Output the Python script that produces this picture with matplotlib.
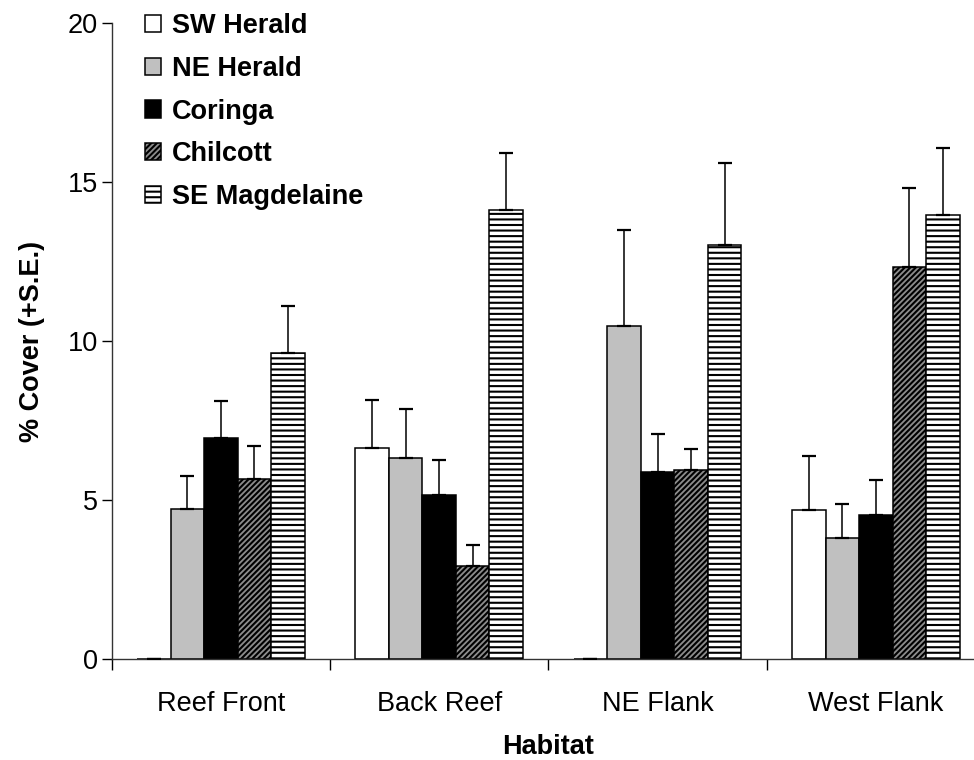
import matplotlib
matplotlib.use('Agg')
import matplotlib.pyplot as plt
import numpy as np

plt.rcParams['font.family'] = ['Liberation Sans', 'DejaVu Sans']
plt.rcParams['hatch.linewidth'] = 1.5
plt.rcParams['hatch.color'] = 'black'

habitats = ['Reef Front', 'Back Reef', 'NE Flank', 'West Flank']
sites = ['SW Herald', 'NE Herald', 'Coringa', 'Chilcott', 'SE Magdelaine']

# mean % cover per site, one value per habitat
sw_herald = [0.0, 6.66, 0.0, 4.70]
ne_herald = [4.72, 6.33, 10.49, 3.83]
coringa = [6.96, 5.18, 5.89, 4.55]
chilcott = [5.67, 2.95, 5.94, 12.33]
se_magdelaine = [9.62, 14.14, 13.04, 13.97]

# standard errors
sw_herald_se = [0.0, 1.50, 0.0, 1.69]
ne_herald_se = [1.06, 1.54, 3.00, 1.06]
coringa_se = [1.15, 1.09, 1.20, 1.10]
chilcott_se = [1.05, 0.66, 0.66, 2.48]
se_magdelaine_se = [1.48, 1.79, 2.56, 2.12]

means = [sw_herald, ne_herald, coringa, chilcott, se_magdelaine]
errors = [sw_herald_se, ne_herald_se, coringa_se, chilcott_se, se_magdelaine_se]
faces = ['white', '#c0c0c0', 'black', '#8c8c8c', 'white']
hatches = [None, None, None, '//////', '---']

fig = plt.figure(figsize=(9.74, 7.6), dpi=100)
ax = fig.add_axes([0.1147, 0.1325, 0.8966, 0.8366])

x = np.arange(len(habitats))
width = 0.1535
offsets = (np.arange(len(sites)) - 2) * width

for i, site in enumerate(sites):
    ax.bar(x + offsets[i], means[i], width, color=faces[i], edgecolor='black',
           linewidth=1.1, hatch=hatches[i], label=site, zorder=2)
    ax.errorbar(x + offsets[i], means[i], yerr=[np.zeros(len(habitats)), errors[i]],
                fmt='none', ecolor='black', elinewidth=1.1, capsize=4.7,
                capthick=1.6, zorder=3)

ax.set_xlim(-0.5, 3.5)
ax.set_ylim(0, 20)
ax.set_yticks([0, 5, 10, 15, 20])
ax.set_xticks(x)
ax.set_xticklabels(habitats)
ax.set_xticks(np.arange(-0.5, 4.0, 1.0), minor=True)
ax.tick_params(axis='x', which='major', length=0, pad=23, labelsize=19.5)
ax.tick_params(axis='x', which='minor', length=8, width=1, direction='out')
ax.tick_params(axis='y', length=7, width=1, direction='out', pad=3, labelsize=19.5)

for side in ['top', 'right']:
    ax.spines[side].set_visible(False)
for side in ['left', 'bottom']:
    ax.spines[side].set_linewidth(1)
    ax.spines[side].set_color('#333333')

ax.set_xlabel('Habitat', fontsize=19.5, fontweight='bold', labelpad=12)
ax.set_ylabel('% Cover (+S.E.)', fontsize=19.5, fontweight='bold', labelpad=16)

fig.legend(loc='upper left', bbox_to_anchor=(0.149, 0.983), frameon=False,
           prop={'size': 19.5, 'weight': 'bold'}, handlelength=0.6,
           handleheight=0.6, handletextpad=0.4, labelspacing=0.62,
           borderpad=0, borderaxespad=0)

plt.savefig('out.png', dpi=100)
